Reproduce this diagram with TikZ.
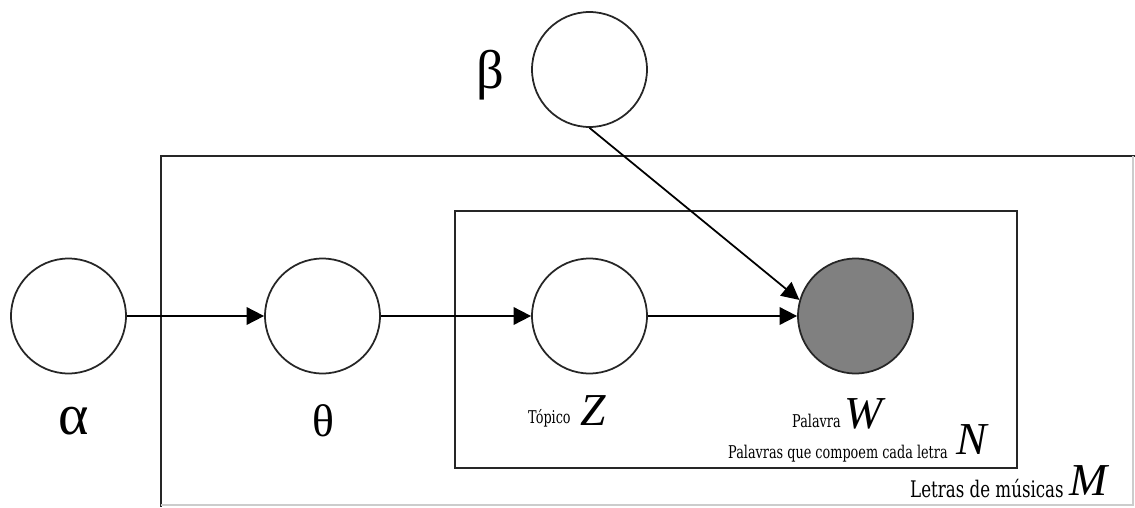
\documentclass[tikz,border=0pt]{standalone}
\usepackage{fontspec}
\setmainfont{Liberation Serif}
\newfontfamily\lblfont[FakeStretch=0.73]{DejaVu Serif}
\usetikzlibrary{arrows.meta}
\definecolor{obsgray}{HTML}{808080}

\begin{document}
\begin{tikzpicture}[x=0.02cm,y=-0.02cm,
  var/.style={circle,draw=black!85,line width=1pt,minimum size=2.3cm,inner sep=0pt},
  obs/.style={var,fill=obsgray},
  edge/.style={line width=1pt,-{Triangle[length=10pt,width=10pt]}},
  plate/.style={line width=1pt,black!85},
  small/.style={font=\lblfont\fontsize{10}{12}\selectfont},
  big/.style={font=\itshape\fontsize{26}{30}\selectfont}]

\useasboundingbox (0,0) rectangle (1135,507);

% plates:
\draw[plate] (161,507) -- (161,156) -- (1135,156);
\draw[black!20,line width=1pt] (1133,156) -- (1133,505) -- (161,505);
\draw[plate] (455,211) rectangle (1017,468);

% variables:
\node[var] (alpha) at (68.5,316) {};
\node[var] (theta) at (322.5,316) {};
\node[var] (beta) at (589.5,69.5) {};
\node[var] (z) at (589.5,316) {};
\node[obs] (w) at (855.5,316) {};

% edges:
\draw[edge] (alpha) -- (theta);
\draw[edge] (theta) -- (z);
\draw[edge] (z) -- (w);
\draw[edge] (beta.south) -- (w.164);

% labels:
\node[font=\fontsize{33}{36}\selectfont] (alphalbl) at (74,421) {α};
\node[font=\fontsize{26}{30}\selectfont] (thetalbl) at (323.5,421) {θ};
\node[font=\fontsize{31}{34}\selectfont] (betalbl) at (490,75) {β};
\node[small,anchor=base west] (topico) at (522,423) {Tópico};
\node[big,anchor=base] (zlbl) at (593,425) {Z};
\node[small,anchor=base west] (palavra) at (786,427) {Palavra};
\node[big,anchor=base] (wlbl) at (864,428) {W};
\node[small,anchor=base west] (palavras) at (722,458) {Palavras que compoem cada letra};
\node[big,anchor=base] (nlbl) at (972,454) {N};
\node[font=\lblfont\fontsize{13}{15}\selectfont,anchor=base west] (letras) at (904,497) {Letras de músicas};
\node[big,anchor=base] (mlbl) at (1089,495) {M};

\end{tikzpicture}
\end{document}
